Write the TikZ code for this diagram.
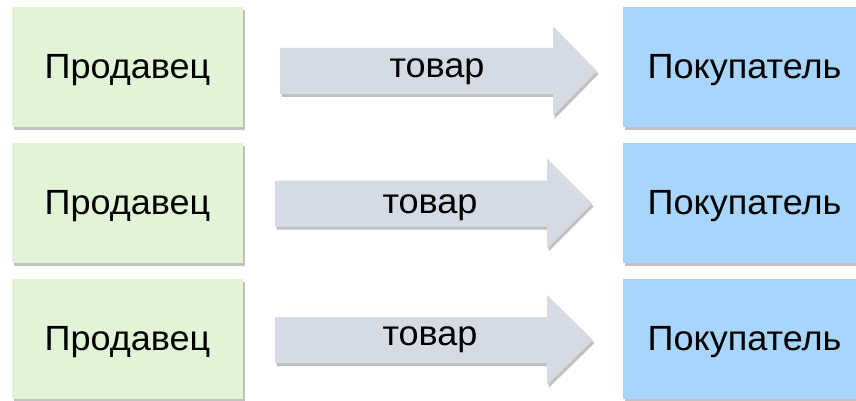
\documentclass[tikz,border=0pt]{standalone}
\usepackage{fontspec}
\setmainfont{Liberation Sans}[FakeStretch=1.03]
\usetikzlibrary{shadows}
\definecolor{sellerfill}{HTML}{E2F3D8}
\definecolor{buyerfill}{HTML}{A7D5FB}
\definecolor{arrowfill}{HTML}{D6DAE2}
\newcommand\goodsarrow[5]{%
  \coordinate (#1s) at (#2,#5);
  \coordinate (#1t) at (#4,#5);
  \path[goodsshape] (#2,{#5-23}) -- (#3,{#5-23}) -- (#3,{#5-45}) -- (#4,#5)
     -- (#3,{#5+45}) -- (#3,{#5+23}) -- (#2,{#5+23}) -- cycle;
}
\begin{document}
\begin{tikzpicture}[x=1pt,y=-1pt,
  softshadow/.style={drop shadow={shadow xshift=1.5pt,shadow yshift=-3pt,opacity=0.35,fill=black!70}},
  txt/.style={font=\fontsize{35}{42}\selectfont},
  seller/.style={fill=sellerfill,minimum width=231pt,minimum height=120pt,inner sep=0pt,softshadow,txt,text height=26pt,text depth=3pt},
  buyer/.style={fill=buyerfill,minimum width=243pt,minimum height=120pt,inner sep=0pt,softshadow,txt,text height=26pt,text depth=3pt},
  goodsshape/.style={fill=arrowfill,softshadow},
  goodslabel/.style={txt,anchor=base,inner sep=0pt}
]
\useasboundingbox (0,0) rectangle (856,401);
\node[seller] (s1) at (127.5,67) {Продавец};
\node[seller] (s2) at (127.5,203) {Продавец};
\node[seller] (s3) at (127.5,339) {Продавец};
\node[buyer] (b1) at (744.5,67) {Покупатель};
\node[buyer] (b2) at (744.5,203) {Покупатель};
\node[buyer] (b3) at (744.5,339) {Покупатель};
\goodsarrow{a1}{280}{553}{597}{71}
\goodsarrow{a2}{275}{547}{592}{203.5}
\goodsarrow{a3}{275}{547}{593}{340}
\node[goodslabel] (t1) at (437,78) {товар};
\node[goodslabel] (t2) at (430,213) {товар};
\node[goodslabel] (t3) at (430,345) {товар};
\end{tikzpicture}
\end{document}
